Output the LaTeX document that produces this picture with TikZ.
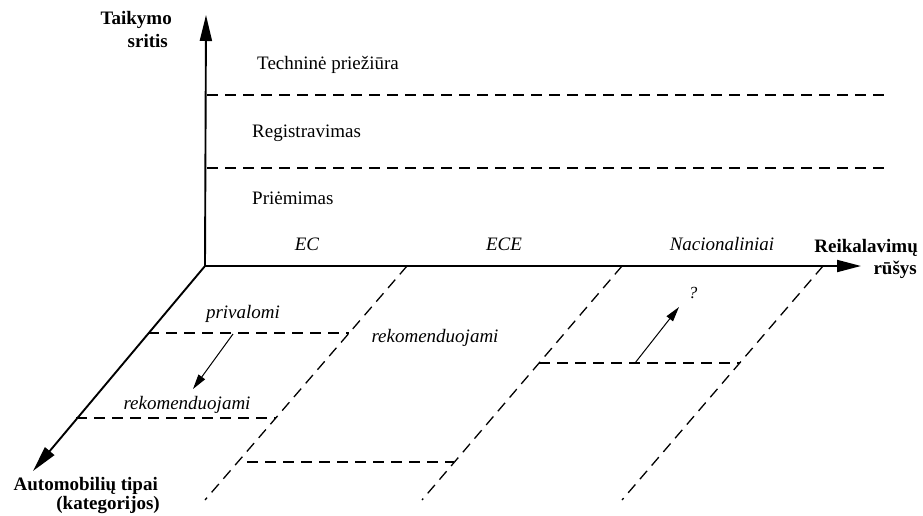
\documentclass[tikz,border=0pt]{standalone}
\usepackage{fontspec}
\setmainfont{Liberation Serif}
\usetikzlibrary{arrows.meta}
\begin{document}
\begin{tikzpicture}[x=1pt,y=-1pt,
  axis/.style={line width=1.9pt},
  bigtip/.style={-{Triangle[length=26pt,width=12pt]}},
  smalltip/.style={-{Triangle[length=15pt,width=8pt]}},
  dline/.style={line width=1.3pt, dash pattern=on 11pt off 7pt},
  lbl/.style={inner sep=0pt, font=\fontsize{19}{22}\selectfont, anchor=base},
  ilbl/.style={lbl, font=\fontsize{19}{22}\selectfont\itshape},
  blbl/.style={lbl, font=\fontsize{19}{22}\selectfont\bfseries},
  arr/.style={line width=1pt}]
\useasboundingbox (0,0) rectangle (923,515);
% axes
\coordinate (O) at (205,266);
\coordinate (Vtop) at (206,15);
\coordinate (Htip) at (861,266);
\coordinate (Dtip) at (33,471);
\draw[axis,bigtip] (O) -- (Vtop);
\draw[axis,-{Triangle[length=24pt,width=12pt]}] (O) -- (Htip);
\draw[axis,bigtip] (O) -- (Dtip);
% vertical levels
\coordinate (L1a) at (207,95); \coordinate (L1b) at (885,95);
\coordinate (L2a) at (207,168); \coordinate (L2b) at (885,168);
\draw[dline] (L1a) -- (L1b);
\draw[dline] (L2a) -- (L2b);
% ground diagonals
\coordinate (D1t) at (407,266); \coordinate (D1b) at (205,500);
\coordinate (D2t) at (622,266); \coordinate (D2b) at (422,500);
\coordinate (D3t) at (823,266); \coordinate (D3b) at (622,500);
\draw[dline] (D1t) -- (D1b);
\draw[dline] (D2t) -- (D2b);
\draw[dline] (D3t) -- (D3b);
% ground horizontals
\coordinate (G1a) at (148,333); \coordinate (G1b) at (349,333);
\coordinate (G2a) at (76,418); \coordinate (G2b) at (276,418);
\coordinate (G3a) at (247,462); \coordinate (G3b) at (454,462);
\coordinate (G4a) at (539,363); \coordinate (G4b) at (740,363);
\draw[dline] (G1a) -- (G1b);
\draw[dline] (G2a) -- (G2b);
\draw[dline] (G3a) -- (G3b);
\draw[dline] (G4a) -- (G4b);
% small arrows
\coordinate (A1s) at (233,334); \coordinate (A1e) at (193,389);
\coordinate (A2s) at (635,363); \coordinate (A2e) at (679,307);
\draw[arr,smalltip] (A1s) -- (A1e);
\draw[arr,smalltip] (A2s) -- (A2e);
% labels
\node[blbl,anchor=base east] (tai) at (172,24) {Taikymo};
\node[blbl,anchor=base east] (sri) at (168,47) {sritis};
\node[lbl,anchor=base west] (tech) at (257,69) {Techninė priežiūra};
\node[lbl,anchor=base west] (reg) at (252,137) {Registravimas};
\node[lbl,anchor=base west] (pri) at (252,204) {Priėmimas};
\node[ilbl] (ec) at (307,250) {EC};
\node[ilbl] (ece) at (504,250) {ECE};
\node[ilbl] (nac) at (722,250) {Nacionaliniai};
\node[blbl,anchor=base east] (rei) at (918,252) {Reikalavimų};
\node[blbl,anchor=base east] (rus) at (917,274) {rūšys};
\node[ilbl] (prv) at (243,318) {privalomi};
\node[ilbl] (rek1) at (187,409) {rekomenduojami};
\node[ilbl] (rek2) at (435,342) {rekomenduojami};
\node[lbl,font=\fontsize{17}{19}\selectfont\itshape] (q) at (693,298) {?};
\node[blbl,anchor=base east] (aut) at (158,490) {Automobilių tipai};
\node[blbl,anchor=base east] (kat) at (160,509) {(kategorijos)};
\end{tikzpicture}
\end{document}
